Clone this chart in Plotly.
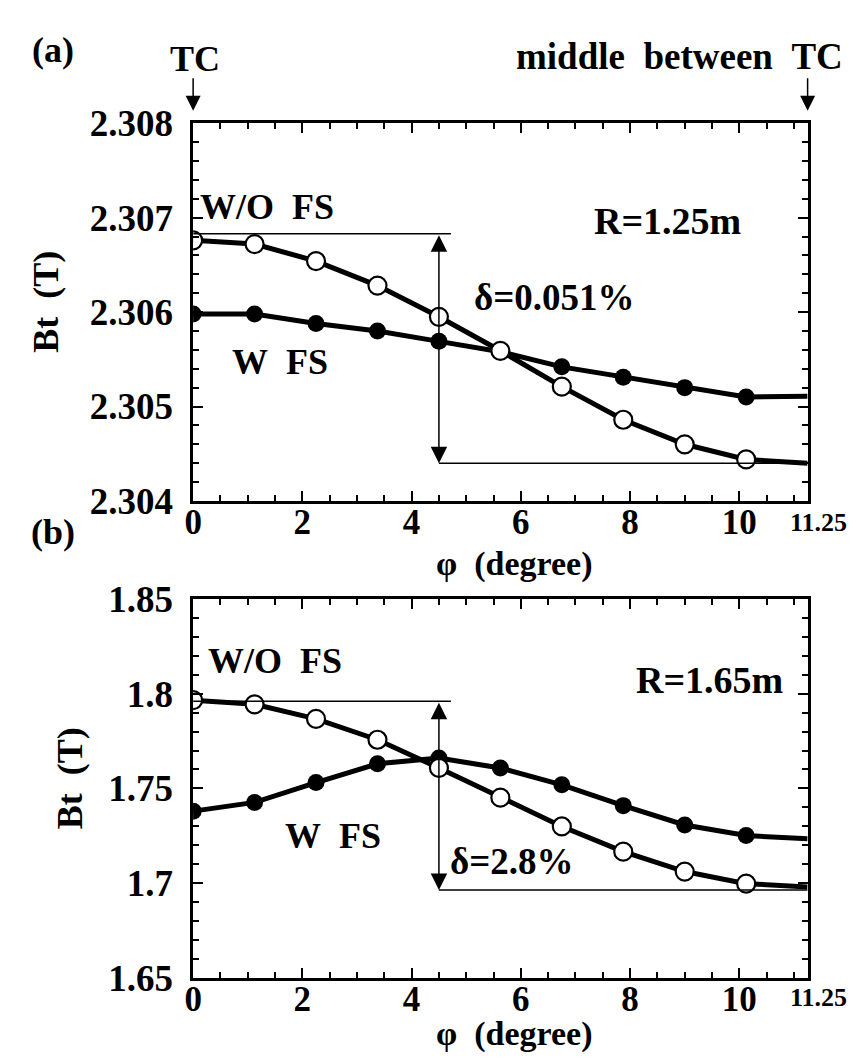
import plotly.graph_objects as go

# ---------------- data ----------------
phi = [0, 1.125, 2.25, 3.375, 4.5, 5.625, 6.75, 7.875, 9, 10.125, 11.25]

# (a) R = 1.25 m
bt_a_wo = [2.30676, 2.30672, 2.30654, 2.30628, 2.30595, 2.30559, 2.30521, 2.30486, 2.30460, 2.30444, 2.30440]
bt_a_w = [2.30598, 2.30598, 2.30588, 2.30580, 2.30569, 2.30558, 2.30542, 2.30531, 2.30520, 2.30510, 2.30511]
delta_a_top = 2.30683
delta_a_bot = 2.30440

# (b) R = 1.65 m
bt_b_wo = [1.7966, 1.7944, 1.7867, 1.7757, 1.7608, 1.7451, 1.7299, 1.7166, 1.7061, 1.6997, 1.6980]
bt_b_w = [1.7380, 1.7426, 1.7531, 1.7630, 1.7660, 1.7608, 1.7519, 1.7409, 1.7307, 1.7251, 1.7234]
delta_b_top = 1.7960
delta_b_bot = 1.6963

x_tickvals = [0, 2, 4, 6, 8, 10]
x_ticktext = ["0", "2", "4", "6", "8", "10"]
x_end_label = "11.25"
ya_tickvals = [2.304, 2.305, 2.306, 2.307, 2.308]
ya_ticktext = ["2.304", "2.305", "2.306", "2.307", "2.308"]
yb_tickvals = [1.65, 1.70, 1.75, 1.80, 1.85]
yb_ticktext = ["1.65", "1.7", "1.75", "1.8", "1.85"]

# ---------------- layout helpers ----------------
W, H = 857, 1060
FONT = "Liberation Serif"


def fx(p):
    return p / W


def fy(p):
    return 1 - p / H


X0, X1 = 178, 799
A_TOP, A_BOT = 99, 492
B_TOP, B_BOT = 594, 988

n_mark = len(phi) - 1
fig = go.Figure()


def add_series(xa, ya, yvals, filled):
    sizes = [17 if filled else 18] * n_mark + [0]
    fig.add_trace(go.Scatter(
        x=phi, y=yvals, xaxis=xa, yaxis=ya, mode="lines+markers",
        line=dict(color="black", width=5),
        marker=dict(size=sizes, opacity=1, color="black" if filled else "white",
                    line=dict(color="black", width=0 if filled else 2.2)),
        showlegend=False, hoverinfo="skip"))


add_series("x", "y", bt_a_w, True)
add_series("x", "y", bt_a_wo, False)
add_series("x2", "y2", bt_b_w, True)
add_series("x2", "y2", bt_b_wo, False)

# delta reference lines
for xa, ya, top, bot in [("x", "y", delta_a_top, delta_a_bot), ("x2", "y2", delta_b_top, delta_b_bot)]:
    fig.add_trace(go.Scatter(x=[0, 4.72], y=[top, top], xaxis=xa, yaxis=ya, mode="lines",
                             line=dict(color="black", width=1.5), showlegend=False, hoverinfo="skip"))
    fig.add_trace(go.Scatter(x=[4.5, 11.25], y=[bot, bot], xaxis=xa, yaxis=ya, mode="lines",
                             line=dict(color="black", width=1.5), showlegend=False, hoverinfo="skip"))

ytickfont = dict(family=FONT, size=37, color="black", weight="bold")
xtickfont = dict(family=FONT, size=35, color="black", weight="bold")
axis_common = dict(showline=True, linecolor="black", linewidth=2.5, mirror="allticks",
                   ticks="inside", ticklen=10, tickwidth=2, tickcolor="black",
                   showgrid=False, zeroline=False,
                   minor=dict(ticks="inside", ticklen=6, tickwidth=2, tickcolor="black", showgrid=False))

fig.update_layout(
    width=W, height=H, autosize=False,
    margin=dict(l=0, r=0, t=0, b=0),
    paper_bgcolor="white", plot_bgcolor="white",
    showlegend=False,
    xaxis=dict(domain=[fx(X0), fx(X1)], anchor="y", range=[0, 11.25],
               tickmode="array", tickvals=x_tickvals, ticktext=x_ticktext,
               tickfont=xtickfont, ticklabelstandoff=-12, **axis_common),
    yaxis=dict(domain=[fy(A_BOT), fy(A_TOP)], anchor="x", range=[2.304, 2.308],
               tickmode="array", tickvals=ya_tickvals, ticktext=ya_ticktext,
               tickfont=ytickfont, ticklabelstandoff=10, **axis_common),
    xaxis2=dict(domain=[fx(X0), fx(X1)], anchor="y2", range=[0, 11.25],
                tickmode="array", tickvals=x_tickvals, ticktext=x_ticktext,
                tickfont=xtickfont, ticklabelstandoff=-12, **axis_common),
    yaxis2=dict(domain=[fy(B_BOT), fy(B_TOP)], anchor="x2", range=[1.65, 1.85],
                tickmode="array", tickvals=yb_tickvals, ticktext=yb_ticktext,
                tickfont=ytickfont, ticklabelstandoff=10, **axis_common),
)
fig.update_xaxes(minor_dtick=0.5, minor_tick0=0)
fig.layout.yaxis.minor.dtick = 0.0002
fig.layout.yaxis.minor.tick0 = 2.304
fig.layout.yaxis2.minor.dtick = 0.01
fig.layout.yaxis2.minor.tick0 = 1.65


def label(text, xc, yc, size=36, angle=0, weight="bold"):
    fig.add_annotation(text=text, x=fx(xc), y=fy(yc), xref="paper", yref="paper",
                       showarrow=False, xanchor="center", yanchor="middle", textangle=angle,
                       borderpad=0,
                       font=dict(family=FONT, size=size, color="black", weight=weight))


# panel (a) labels
label("W/O\u00a0\u00a0FS", 253, 186)
label("W\u00a0\u00a0FS", 266, 347)
label("δ=0.051%", 543, 280, size=37)
label("R=1.25m", 657, 201, size=38)
# panel (b) labels
label("W/O\u00a0\u00a0FS", 261, 658)
label("W\u00a0\u00a0FS", 319, 840)
label("δ=2.8%", 500, 867, size=37)
label("R=1.65m", 700, 678, size=38)
# header and panel tags
label("(a)", 36, 23)
label("TC", 180, 32)
label("middle\u00a0\u00a0between\u00a0\u00a0TC", 670, 30, size=37)
label("(b)", 36, 524)
# end tick labels of the phi axes
label(x_end_label, 810, 514, size=26)
label(x_end_label, 810, 1009, size=26)
# axis titles
label("Bt\u00a0\u00a0(T)", 29, 285, angle=-90)
label("Bt\u00a0\u00a0(T)", 53, 780, angle=-90)
label("φ\u00a0\u00a0(degree)", 503, 558, size=34)
label("φ\u00a0\u00a0(degree)", 503, 1046, size=34)

# delta arrows (double headed)
for xa, ya, top, bot in [("x", "y", delta_a_top, delta_a_bot), ("x2", "y2", delta_b_top, delta_b_bot)]:
    fig.add_annotation(x=4.5, y=bot, ax=4.5, ay=top, xref=xa, yref=ya, axref=xa, ayref=ya,
                       text="", showarrow=True, arrowhead=2, arrowside="end+start",
                       arrowsize=2.2, arrowwidth=1.5, arrowcolor="black", standoff=0, startstandoff=0)

# TC arrows above panel (a)
for xv in [0, 11.25]:
    fig.add_annotation(x=xv, y=fy(86), xref="x", yref="paper", ax=0, ay=-34,
                       text="", showarrow=True, arrowhead=2, arrowsize=2.0, arrowwidth=1.5,
                       arrowcolor="black", standoff=0)

fig.write_html("out.html")
